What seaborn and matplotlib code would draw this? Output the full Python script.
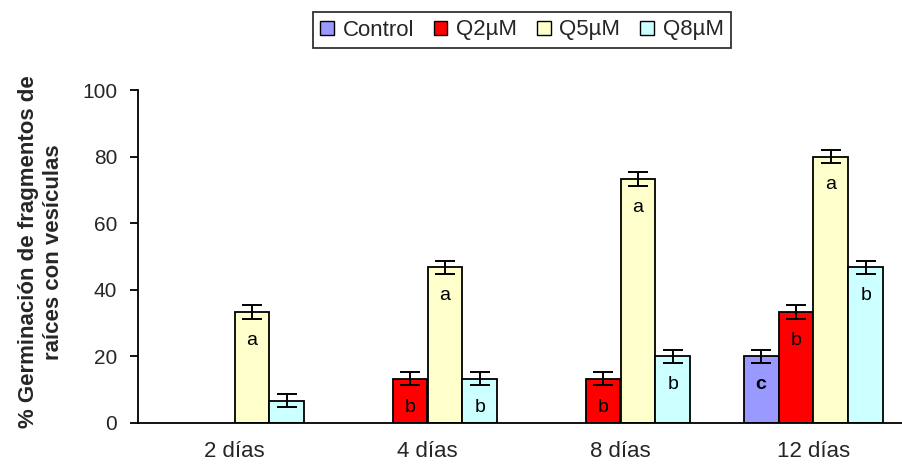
import matplotlib
matplotlib.use("Agg")
import matplotlib.pyplot as plt
import seaborn as sns
import pandas as pd
import numpy as np
from matplotlib.patches import Patch

categories = ["2 días", "4 días", "8 días", "12 días"]
series = ["Control", "Q2µM", "Q5µM", "Q8µM"]
control = [0, 0, 0, 20]
q2 = [0, 13.3, 13.3, 33.3]
q5 = [33.3, 46.7, 73.3, 80]
q8 = [6.7, 13.3, 20, 46.7]
err_control = [0, 0, 0, 2]
err_q2 = [0, 2, 2, 2]
err_q5 = [2, 2, 2, 2]
err_q8 = [2, 2, 2, 2]
letters_control = ["", "", "", "c"]
letters_q2 = ["", "b", "b", "b"]
letters_q5 = ["a", "a", "a", "a"]
letters_q8 = ["", "b", "b", "b"]
colors = ["#9999FF", "#FF0000", "#FFFFCC", "#CCFFFF"]
yticks = [0, 20, 40, 60, 80, 100]

vals = [control, q2, q5, q8]
errs = [err_control, err_q2, err_q5, err_q8]
lets = [letters_control, letters_q2, letters_q5, letters_q8]

rows = []
for s, v, e, l in zip(series, vals, errs, lets):
    for c, vi, ei, li in zip(categories, v, e, l):
        rows.append({"cat": c, "serie": s, "val": vi, "err": ei, "let": li})
df = pd.DataFrame(rows)

sns.set_style("white")
plt.rcParams['font.family'] = ['Liberation Sans', 'DejaVu Sans']

fig = plt.figure(figsize=(9.02, 4.70), dpi=100)
ax = fig.add_axes([138/902, 47/470, 772/902, 333/470])

sns.barplot(data=df, x="cat", y="val", hue="serie", order=categories,
            hue_order=series, palette=colors, width=0.725, edgecolor="black",
            linewidth=1.3, errorbar=None, ax=ax, saturation=1, legend=False)

for i, s in enumerate(series):
    cont = ax.containers[i]
    for j, bar in enumerate(cont):
        v = vals[i][j]
        if v == 0:
            bar.set_visible(False)
            continue
        xc = bar.get_x() + bar.get_width() / 2
        ax.errorbar(xc, v, yerr=errs[i][j], color="black", capsize=7.5,
                    capthick=1.4, elinewidth=1.4, zorder=5)
        if lets[i][j]:
            ax.text(xc, v - 8.5, lets[i][j], ha="center", va="center",
                    fontsize=14, fontweight="bold" if lets[i][j] == "c" else "normal",
                    color="black", zorder=6)

ax.set_xlim(-0.5, 3.5)
ax.set_ylim(0, 100)
ax.set_yticks(yticks)
ax.set_yticklabels([str(t) for t in yticks], fontsize=15)
ax.set_xticks(range(4))
ax.set_xticklabels(categories, fontsize=16)
ax.set_xticks(np.arange(-0.5, 3.6, 1), minor=True)
ax.tick_params(axis="x", which="major", length=0, pad=13)
ax.tick_params(axis="x", which="minor", length=6, width=1.3, direction="out", color="black")
ax.tick_params(axis="y", length=6, width=1.3, direction="out", color="black", pad=9, left=True)
ax.set_xlabel("")
ax.set_ylabel("")
for sp in ["top", "right"]:
    ax.spines[sp].set_visible(False)
for sp in ["left", "bottom"]:
    ax.spines[sp].set_color("black")
    ax.spines[sp].set_linewidth(1.3)

fig.text(41/902, 1 - 252/470, "% Germinación de fragmentos de\nraíces con vesículas",
         rotation=90, ha="center", va="center", fontsize=16, fontweight="bold",
         multialignment="center", linespacing=1.3)

handles = [Patch(facecolor=c, edgecolor="black", linewidth=1) for c in colors]
leg = fig.legend(handles, series, loc="center", bbox_to_anchor=(522/902, 1 - 30/470),
                 ncol=4, frameon=True, fontsize=16, handlelength=0.6, handleheight=0.6,
                 handletextpad=0.4, columnspacing=0.9, borderpad=0.35, fancybox=False)
leg.get_frame().set_edgecolor("black")
leg.get_frame().set_linewidth(1.3)

fig.savefig("out.png", dpi=100)
